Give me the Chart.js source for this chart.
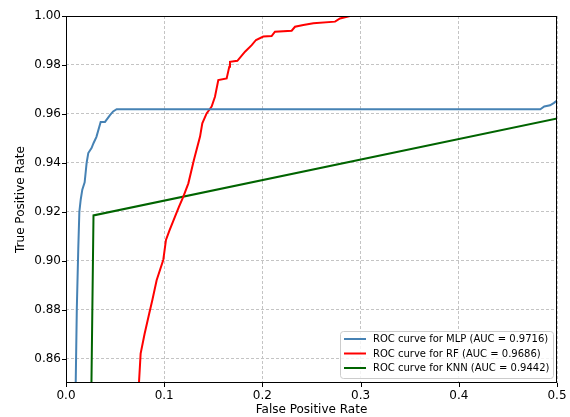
<!DOCTYPE html>
<html>
<head>
<meta charset="utf-8">
<script src="https://cdn.jsdelivr.net/npm/chart.js@4.4.1/dist/chart.umd.min.js"></script>
<style>
  html, body { margin: 0; padding: 0; background: #ffffff; }
  #wrap { width: 570px; height: 417px; }
</style>
</head>
<body>
<div id="wrap"><canvas id="rocChart" width="570" height="417"></canvas></div>
<script>
// ROC points (false positive rate, true positive rate)
const fprMLP = [0.009, 0.0099, 0.0110, 0.0125, 0.0136, 0.0150, 0.0166, 0.019, 0.021, 0.0227, 0.026, 0.028, 0.031, 0.0353, 0.0397, 0.0448, 0.048, 0.0516, 0.483, 0.487, 0.493, 0.497, 0.5];
const tprMLP = [0.845, 0.85, 0.88, 0.905, 0.92, 0.925, 0.929, 0.932, 0.940, 0.944, 0.946, 0.948, 0.9506, 0.9567, 0.9567, 0.9595, 0.961, 0.9619, 0.9619, 0.963, 0.9635, 0.9645, 0.9655];

const fprRF = [0.073, 0.0743, 0.076, 0.080, 0.0848, 0.088, 0.0923, 0.0991, 0.1018, 0.105, 0.111, 0.115, 0.1195, 0.1246, 0.1303, 0.1365, 0.1388, 0.1432, 0.1483, 0.1517, 0.1551, 0.1636, 0.1663, 0.1670, 0.1745, 0.1823, 0.1891, 0.1935, 0.2009, 0.2094, 0.2128, 0.2298, 0.2332, 0.2417, 0.2519, 0.274, 0.279, 0.2892, 0.5, 1.0];
const tprRF = [0.845, 0.85, 0.862, 0.870, 0.8785, 0.884, 0.892, 0.9004, 0.9085, 0.912, 0.918, 0.922, 0.9262, 0.9316, 0.9412, 0.9507, 0.9561, 0.9602, 0.963, 0.967, 0.9738, 0.9745, 0.9793, 0.9813, 0.9817, 0.9854, 0.9881, 0.9902, 0.9916, 0.9918, 0.9936, 0.994, 0.9956, 0.9963, 0.997, 0.9977, 0.999, 1.0, 1.0, 1.0];

const fprKNN = [0.0, 0.028, 1.0];
const tprKNN = [0.0, 0.9185, 1.0];

const seriesLabels = [
    'ROC curve for MLP (AUC = 0.9716)',
    'ROC curve for RF (AUC = 0.9686)',
    'ROC curve for KNN (AUC = 0.9442)'
];
const xTicks = [0.0, 0.1, 0.2, 0.3, 0.4, 0.5];
const yTicks = [0.86, 0.88, 0.90, 0.92, 0.94, 0.96, 0.98, 1.00];

const toPoints = (xs, ys) => xs.map((x, i) => ({ x: x, y: ys[i] }));

Chart.defaults.font.family = "'DejaVu Sans', sans-serif";
Chart.defaults.color = '#000000';

// matplotlib style frame, tick marks and a legend inside the axes
const mplFrame = {
    id: 'mplFrame',
    afterDatasetsDraw(chart) {
        const { ctx, chartArea: a, scales } = chart;
        ctx.save();
        ctx.strokeStyle = '#000000';
        ctx.lineWidth = 1;
        ctx.strokeRect(a.left + 0.5, a.top + 0.5, a.right - a.left - 1, a.bottom - a.top - 1);
        ctx.beginPath();
        xTicks.forEach(v => {
            const px = Math.round(scales.x.getPixelForValue(v)) + 0.5;
            ctx.moveTo(px, a.bottom);
            ctx.lineTo(px, a.bottom + 4);
        });
        yTicks.forEach(v => {
            const py = Math.round(scales.y.getPixelForValue(v)) + 0.5;
            ctx.moveTo(a.left, py);
            ctx.lineTo(a.left - 4, py);
        });
        ctx.stroke();

        // legend, lower right
        const boxW = 213, boxH = 47;
        const bx = a.right - 4 - boxW, by = a.bottom - 5 - boxH;
        ctx.beginPath();
        ctx.roundRect(bx + 0.5, by + 0.5, boxW, boxH, 3);
        ctx.fillStyle = 'rgba(255,255,255,0.8)';
        ctx.fill();
        ctx.strokeStyle = '#cccccc';
        ctx.stroke();
        ctx.font = "10px 'DejaVu Sans'";
        ctx.textBaseline = 'middle';
        chart.data.datasets.forEach((ds, i) => {
            const ry = by + 8 + i * 14.5;
            ctx.beginPath();
            ctx.strokeStyle = ds.borderColor;
            ctx.lineWidth = 2;
            ctx.moveTo(bx + 4, ry);
            ctx.lineTo(bx + 26, ry);
            ctx.stroke();
            ctx.fillStyle = '#000000';
            ctx.fillText(ds.label, bx + 33, ry + 0.5);
        });
        ctx.restore();
    }
};

new Chart(document.getElementById('rocChart'), {
    type: 'line',
    data: {
        datasets: [
            { label: seriesLabels[0], data: toPoints(fprMLP, tprMLP), borderColor: '#4682b4' },
            { label: seriesLabels[1], data: toPoints(fprRF, tprRF), borderColor: '#ff0000' },
            { label: seriesLabels[2], data: toPoints(fprKNN, tprKNN), borderColor: '#006400' }
        ].map(ds => Object.assign(ds, { borderWidth: 2, pointRadius: 0, fill: false, tension: 0 }))
    },
    options: {
        responsive: false,
        animation: false,
        layout: { padding: { top: 16, right: 13, left: 0, bottom: 0 } },
        plugins: { legend: { display: false }, tooltip: { enabled: false } },
        scales: {
            x: {
                type: 'linear',
                min: 0, max: 0.5,
                afterBuildTicks: s => { s.ticks = xTicks.map(v => ({ value: v })); },
                afterFit: s => { s.height = 34; s.paddingRight = 0; s.paddingLeft = 0; },
                ticks: { padding: 6, font: { size: 12 }, callback: v => v.toFixed(1) },
                grid: { color: '#c4c4c4', lineWidth: 1, drawTicks: false },
                border: { display: false, dash: [3, 2] },
                title: { display: true, text: 'False Positive Rate', font: { size: 12 }, padding: { top: 0, bottom: 0 } }
            },
            y: {
                type: 'linear',
                min: 0.85, max: 1.0,
                afterBuildTicks: s => { s.ticks = yTicks.map(v => ({ value: v })); },
                afterFit: s => { s.width = 66; },
                ticks: { padding: 5, font: { size: 12 }, callback: v => v.toFixed(2) },
                grid: { color: '#c4c4c4', lineWidth: 1, drawTicks: false },
                border: { display: false, dash: [3, 2] },
                title: { display: true, text: 'True Positive Rate', font: { size: 12 }, padding: { top: 14, bottom: 0 } }
            }
        }
    },
    plugins: [mplFrame]
});
</script>
</body>
</html>
